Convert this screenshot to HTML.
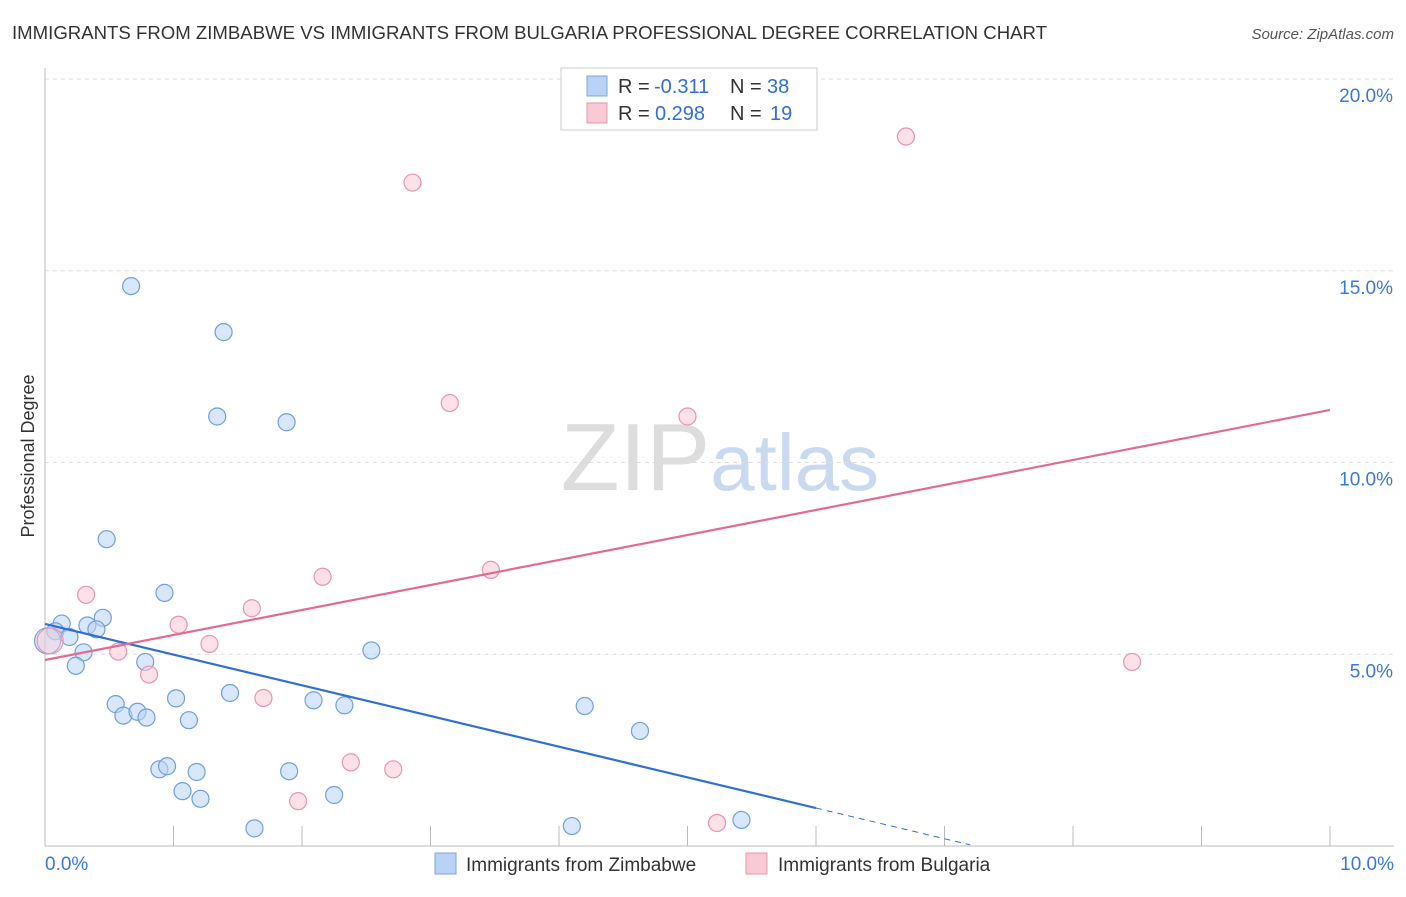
<!DOCTYPE html>
<html><head><meta charset="utf-8">
<style>
body{margin:0;background:#fff;font-family:"Liberation Sans",sans-serif;}
svg text{font-family:"Liberation Sans",sans-serif;}
</style></head>
<body>
<svg id="chart" width="1406" height="892" xmlns="http://www.w3.org/2000/svg">
<text x="12" y="39" font-size="18" fill="#333" textLength="1035" lengthAdjust="spacingAndGlyphs">IMMIGRANTS FROM ZIMBABWE VS IMMIGRANTS FROM BULGARIA PROFESSIONAL DEGREE CORRELATION CHART</text>
<text x="1394" y="39" font-size="15" fill="#555" text-anchor="end" font-style="italic">Source: ZipAtlas.com</text>
<text x="720" y="490" font-size="96" text-anchor="middle" fill="#ddd" font-family="Liberation Serif">ZIP<tspan fill="#c9d9f0" font-family="Liberation Sans" font-size="80">atlas</tspan></text>
<g id="grid"></g>
<g id="axes"></g>
<g id="marks"></g>
<text transform="translate(34,456) rotate(-90)" font-size="18" fill="#333" text-anchor="middle">Professional Degree</text>
<g>
<rect x="561" y="68" width="256" height="62" fill="#fff" stroke="#ccc"/>
<rect x="587" y="76" width="20" height="20" fill="#b8d3f5" stroke="#7aa7e0"/>
<text x="618" y="93" font-size="20" fill="#333">R =</text>
<text x="654" y="93" font-size="20" fill="#2f6fd6">-0.311</text>
<text x="730" y="93" font-size="20" fill="#333">N =</text>
<text x="767" y="93" font-size="20" fill="#2f6fd6">38</text>
<rect x="587" y="103" width="20" height="20" fill="#f9c9d6" stroke="#eb93ad"/>
<text x="618" y="120" font-size="20" fill="#333">R =</text>
<text x="655" y="120" font-size="20" fill="#2f6fd6">0.298</text>
<text x="730" y="120" font-size="20" fill="#333">N =</text>
<text x="770" y="120" font-size="20" fill="#2f6fd6">19</text>
</g>
<g>
<rect x="435" y="853" width="21" height="21" fill="#b8d3f5" stroke="#7aa7e0"/>
<text x="466" y="871" font-size="19" fill="#333">Immigrants from Zimbabwe</text>
<rect x="746" y="853" width="21" height="21" fill="#f9c9d6" stroke="#eb93ad"/>
<text x="778" y="871" font-size="19" fill="#333">Immigrants from Bulgaria</text>
</g>
</svg>
<script>
const xTicks=[0,1,2,3,4,5,6,7,8,9,10];
const yTicks=[5,10,15,20];
const yTickLabels=["5.0%","10.0%","15.0%","20.0%"];
const zimX=[0.67,1.39,1.34,1.88,0.48,0.93,0.45,0.13,0.33,0.40,0.08,0.19,0.30,0.78,0.24,2.54,0.55,1.02,1.44,2.09,2.33,0.61,0.72,0.79,1.12,4.20,4.63,0.89,0.95,1.18,1.90,1.07,1.21,2.25,1.63,4.10,5.42,0.02];
const zimY=[14.6,13.4,11.2,11.05,8.0,6.6,5.95,5.8,5.75,5.65,5.6,5.45,5.05,4.8,4.7,5.1,3.7,3.85,3.99,3.8,3.67,3.4,3.5,3.35,3.28,3.65,3.0,2.0,2.08,1.93,1.95,1.43,1.23,1.33,0.46,0.52,0.68,5.35];
const bulX=[2.86,6.70,3.15,5.00,3.47,2.16,0.32,1.61,1.04,1.28,0.57,0.81,1.70,8.46,2.38,2.71,1.97,5.23,0.04];
const bulY=[17.3,18.5,11.55,11.2,7.2,7.02,6.55,6.2,5.77,5.27,5.07,4.47,3.86,4.8,2.18,2.0,1.17,0.6,5.35];
const zimLine=[5.79,-0.80]; // intercept %, slope per 1% x
const bulLine=[4.85,0.652];
const X=v=>45+v*128.5, Y=v=>846-v*38.35;
const NS="http://www.w3.org/2000/svg";
function mk(p,t,a){const e=document.createElementNS(NS,t);for(const k in a)e.setAttribute(k,a[k]);p.appendChild(e);return e;}
const grid=document.getElementById('grid'),axes=document.getElementById('axes'),marks=document.getElementById('marks');
yTicks.forEach((t,i)=>{
 const l=mk(grid,'line',{x1:45,x2:1394,y1:Y(t),y2:Y(t),stroke:'#ddd','stroke-dasharray':'4,4'});
 
 
 const tx=mk(axes,'text',{x:1393,y:Y(t)+23,'font-size':19,fill:'#3a78d8','text-anchor':'end'});
 tx.textContent=yTickLabels[i];
 
 
});
const ax=mk(axes,'line',{x1:45,x2:45,y1:68,y2:846,stroke:'#bbb'});


const bx=mk(axes,'line',{x1:45,x2:1394,y1:846,y2:846,stroke:'#bbb'});


xTicks.forEach(t=>{const l=mk(axes,'line',{x1:X(t),x2:X(t),y1:826,y2:846,stroke:'#bbb'});
 
 });
[[0,"0.0%",'start',45],[10,"10.0%",'end',1394]].forEach(d=>{const t=mk(axes,'text',{x:d[3],y:870,'font-size':19,fill:'#3a78d8','text-anchor':d[2]});t.textContent=d[1];
 
 });
function pts(xs,ys,fill,stroke,name){xs.forEach((x,i)=>{const big=i===xs.length-1;
 const c=mk(marks,'circle',{cx:X(x),cy:Y(ys[i]),r:big?13:8.5,fill:fill,'fill-opacity':big?0.45:0.55,stroke:stroke,'stroke-width':1.2});
 
 });}
pts(zimX,zimY,'#b8d3f5','#6f9fe0','zimbabwe-point');
pts(bulX,bulY,'#f9c9d6','#eb93ad','bulgaria-point');
const zf=v=>zimLine[0]+zimLine[1]*v, bf=v=>bulLine[0]+bulLine[1]*v;
let l=mk(marks,'line',{x1:X(0),y1:Y(zf(0)),x2:X(6),y2:Y(zf(6)),stroke:'#2f6fd6','stroke-width':2.2});


l=mk(marks,'line',{x1:X(6),y1:Y(zf(6)),x2:X(7.2),y2:Y(zf(7.2)),stroke:'#2f6fd6','stroke-width':1,'stroke-dasharray':'6,5'});


l=mk(marks,'line',{x1:X(0),y1:Y(bf(0)),x2:X(10),y2:Y(bf(10)),stroke:'#e46a93','stroke-width':2.2});


</script>
</body></html>
